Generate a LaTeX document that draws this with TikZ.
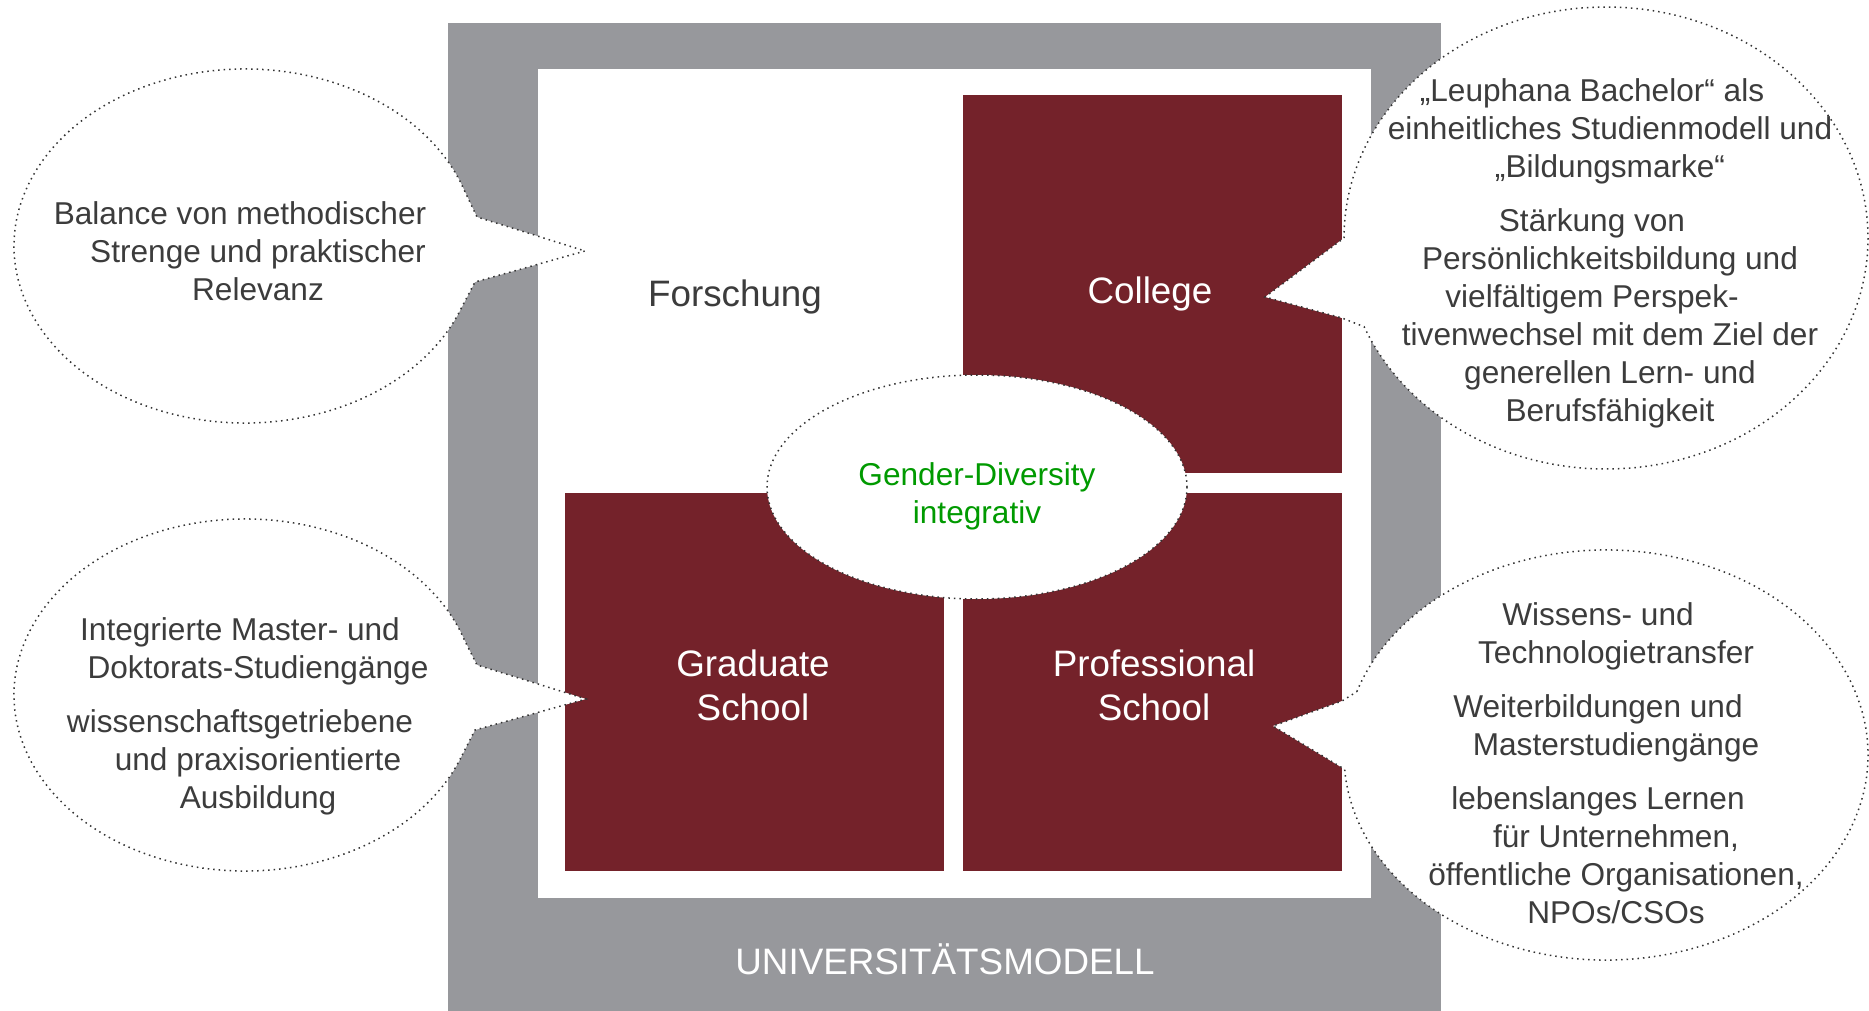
\documentclass[tikz,border=0pt]{standalone}
\usepackage{fontspec}
\setmainfont{Liberation Sans}
\definecolor{cinza}{HTML}{97989C}
\definecolor{vinho}{HTML}{74222A}
\definecolor{texto}{HTML}{3C3C3C}
\definecolor{verde}{HTML}{009A00}
% linha deslocada para a esquerda
\newcommand{\esq}[1]{\mbox{#1\hspace{18pt}}}

\begin{document}
\begin{tikzpicture}[x=0.5pt,y=-0.5pt,
        grande/.style={font=\fontsize{18.4}{22}\selectfont, align=center},
        nota/.style={text=texto, font=\fontsize{15.8}{19}\selectfont, align=center},
        balao/.style={fill=white, draw=black!80, dotted, line width=0.75pt}]
        \useasboundingbox (0,0) rectangle (1869,1011);
        % Moldura cinza e fundo branco
        \fill[cinza] (448,23) rectangle (1441,1011);
        \fill[white] (538,69) rectangle (1371,898);
        % Caixas vermelhas
        \fill[vinho] (963,95) rectangle (1342,473);
        \fill[vinho] (565,493) rectangle (944,871);
        \fill[vinho] (963,493) rectangle (1342,871);
        % Rotulos das caixas
        \node[grande, text=texto] (forschung) at (735,297) {Forschung};
        \node[grande, text=white] (college) at (1150,294) {College};
        \node[grande, text=white] (graduate) at (753,685) {Graduate\\School};
        \node[grande, text=white] (professional) at (1154,685) {Professional\\School};
        \node[grande, text=white] (modell) at (945,959) {UNIVERSITÄTSMODELL};
        % Elipse central
        \draw[balao] (977,487) ellipse [x radius=210, y radius=112];
        \node[nota, text=verde] (gender) at (977,496) {Gender-Diversity\\integrativ};
        % Balao superior esquerdo
        \draw[balao] (245,246) ++(20.5:231 and 177) arc[start angle=20.5, end angle=341.6, x radius=231, y radius=177]
            -- (477,217) -- (585,251) -- (475,282) -- cycle;
        \node[nota] (balanco) at (258,251) {\esq{Balance von methodischer}\\Strenge und praktischer\\Relevanz};
        % Balao inferior esquerdo
        \draw[balao] (245,695) ++(21:231 and 176) arc[start angle=21, end angle=341.8, x radius=231, y radius=176]
            -- (477,665) -- (586,699) -- (475,730) -- cycle;
        \node[nota] (master) at (258,716) {\esq{Integrierte Master- und}\\Doktorats-Studiengänge\\[8pt]%
            \esq{wissenschaftsgetriebene}\\und praxisorientierte\\Ausbildung};
        % Balao superior direito
        \draw[balao] (1606,238) ++(180:262 and 231) arc[start angle=180, end angle=517.4, x radius=262, y radius=231]
            -- (1342,318) -- (1265,297) -- cycle;
        \node[nota] (bachelor) at (1610,253) {\esq{„Leuphana Bachelor“ als}\\einheitliches Studienmodell und\\„Bildungsmarke“\\[8pt]%
            \esq{Stärkung von}\\Persönlichkeitsbildung und\\\esq{vielfältigem Perspek-}\\tivenwechsel mit dem Ziel der\\generellen Lern- und\\Berufsfähigkeit};
        % Balao inferior direito
        \draw[balao] (1606,755) ++(198:262 and 205) arc[start angle=198, end angle=536, x radius=262, y radius=205]
            -- (1273,726) -- (1342,701) -- cycle;
        \node[nota] (transfer) at (1616,763) {\esq{Wissens- und}\\Technologietransfer\\[8pt]%
            \esq{Weiterbildungen und}\\Masterstudiengänge\\[8pt]%
            \esq{lebenslanges Lernen}\\für Unternehmen,\\öffentliche Organisationen,\\NPOs/CSOs};
    \end{tikzpicture}
\end{document}
